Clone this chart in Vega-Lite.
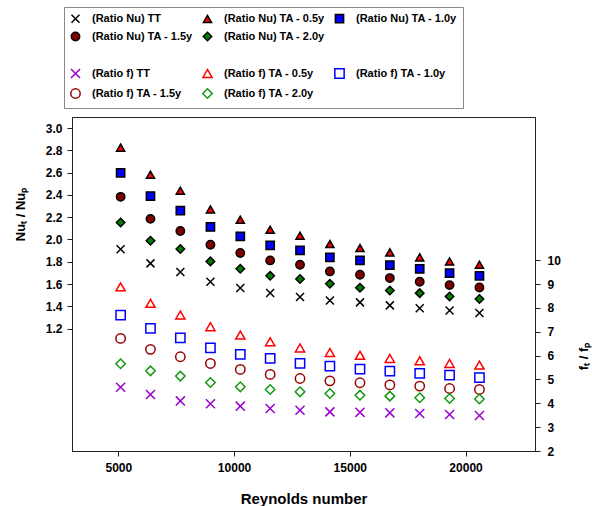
{
  "$schema": "https://vega.github.io/schema/vega-lite/v6.json",
  "width": 463,
  "height": 334,
  "autosize": {"type": "none"},
  "padding": {"left": 72, "top": 117, "right": 57, "bottom": 55},
  "background": "white",
  "config": {
    "view": {"stroke": "#222222", "strokeWidth": 1},
    "font": "Liberation Sans",
    "axis": {
      "grid": false,
      "domainColor": "#222222",
      "tickColor": "#222222",
      "labelColor": "black",
      "titleColor": "black",
      "labelFont": "Liberation Sans",
      "labelFontWeight": "bold",
      "labelFontSize": 12,
      "titleFont": "Liberation Sans",
      "titleFontWeight": "bold",
      "tickSize": 5
    }
  },
  "datasets": {
    "nu": [
      {"Re": 5100, "series": "(Ratio Nu) TT", "v": 1.912},
      {"Re": 6390, "series": "(Ratio Nu) TT", "v": 1.785},
      {"Re": 7680, "series": "(Ratio Nu) TT", "v": 1.708},
      {"Re": 8980, "series": "(Ratio Nu) TT", "v": 1.62},
      {"Re": 10270, "series": "(Ratio Nu) TT", "v": 1.564},
      {"Re": 11560, "series": "(Ratio Nu) TT", "v": 1.519},
      {"Re": 12850, "series": "(Ratio Nu) TT", "v": 1.483},
      {"Re": 14140, "series": "(Ratio Nu) TT", "v": 1.452},
      {"Re": 15440, "series": "(Ratio Nu) TT", "v": 1.435},
      {"Re": 16730, "series": "(Ratio Nu) TT", "v": 1.408},
      {"Re": 18020, "series": "(Ratio Nu) TT", "v": 1.383},
      {"Re": 19310, "series": "(Ratio Nu) TT", "v": 1.362},
      {"Re": 20600, "series": "(Ratio Nu) TT", "v": 1.339},
      {"Re": 5100, "series": "(Ratio Nu) TA - 0.5y", "v": 2.825},
      {"Re": 6390, "series": "(Ratio Nu) TA - 0.5y", "v": 2.582},
      {"Re": 7680, "series": "(Ratio Nu) TA - 0.5y", "v": 2.438},
      {"Re": 8980, "series": "(Ratio Nu) TA - 0.5y", "v": 2.27},
      {"Re": 10270, "series": "(Ratio Nu) TA - 0.5y", "v": 2.177},
      {"Re": 11560, "series": "(Ratio Nu) TA - 0.5y", "v": 2.088},
      {"Re": 12850, "series": "(Ratio Nu) TA - 0.5y", "v": 2.034},
      {"Re": 14140, "series": "(Ratio Nu) TA - 0.5y", "v": 1.959},
      {"Re": 15440, "series": "(Ratio Nu) TA - 0.5y", "v": 1.923},
      {"Re": 16730, "series": "(Ratio Nu) TA - 0.5y", "v": 1.884},
      {"Re": 18020, "series": "(Ratio Nu) TA - 0.5y", "v": 1.839},
      {"Re": 19310, "series": "(Ratio Nu) TA - 0.5y", "v": 1.803},
      {"Re": 20600, "series": "(Ratio Nu) TA - 0.5y", "v": 1.773},
      {"Re": 5100, "series": "(Ratio Nu) TA - 1.0y", "v": 2.599},
      {"Re": 6390, "series": "(Ratio Nu) TA - 1.0y", "v": 2.39},
      {"Re": 7680, "series": "(Ratio Nu) TA - 1.0y", "v": 2.258},
      {"Re": 8980, "series": "(Ratio Nu) TA - 1.0y", "v": 2.112},
      {"Re": 10270, "series": "(Ratio Nu) TA - 1.0y", "v": 2.027},
      {"Re": 11560, "series": "(Ratio Nu) TA - 1.0y", "v": 1.947},
      {"Re": 12850, "series": "(Ratio Nu) TA - 1.0y", "v": 1.902},
      {"Re": 14140, "series": "(Ratio Nu) TA - 1.0y", "v": 1.839},
      {"Re": 15440, "series": "(Ratio Nu) TA - 1.0y", "v": 1.812},
      {"Re": 16730, "series": "(Ratio Nu) TA - 1.0y", "v": 1.77},
      {"Re": 18020, "series": "(Ratio Nu) TA - 1.0y", "v": 1.735},
      {"Re": 19310, "series": "(Ratio Nu) TA - 1.0y", "v": 1.698},
      {"Re": 20600, "series": "(Ratio Nu) TA - 1.0y", "v": 1.674},
      {"Re": 5100, "series": "(Ratio Nu) TA - 1.5y", "v": 2.383},
      {"Re": 6390, "series": "(Ratio Nu) TA - 1.5y", "v": 2.185},
      {"Re": 7680, "series": "(Ratio Nu) TA - 1.5y", "v": 2.076},
      {"Re": 8980, "series": "(Ratio Nu) TA - 1.5y", "v": 1.953},
      {"Re": 10270, "series": "(Ratio Nu) TA - 1.5y", "v": 1.878},
      {"Re": 11560, "series": "(Ratio Nu) TA - 1.5y", "v": 1.812},
      {"Re": 12850, "series": "(Ratio Nu) TA - 1.5y", "v": 1.773},
      {"Re": 14140, "series": "(Ratio Nu) TA - 1.5y", "v": 1.713},
      {"Re": 15440, "series": "(Ratio Nu) TA - 1.5y", "v": 1.683},
      {"Re": 16730, "series": "(Ratio Nu) TA - 1.5y", "v": 1.653},
      {"Re": 18020, "series": "(Ratio Nu) TA - 1.5y", "v": 1.62},
      {"Re": 19310, "series": "(Ratio Nu) TA - 1.5y", "v": 1.59},
      {"Re": 20600, "series": "(Ratio Nu) TA - 1.5y", "v": 1.569},
      {"Re": 5100, "series": "(Ratio Nu) TA - 2.0y", "v": 2.152},
      {"Re": 6390, "series": "(Ratio Nu) TA - 2.0y", "v": 1.989},
      {"Re": 7680, "series": "(Ratio Nu) TA - 2.0y", "v": 1.914},
      {"Re": 8980, "series": "(Ratio Nu) TA - 2.0y", "v": 1.803},
      {"Re": 10270, "series": "(Ratio Nu) TA - 2.0y", "v": 1.737},
      {"Re": 11560, "series": "(Ratio Nu) TA - 2.0y", "v": 1.674},
      {"Re": 12850, "series": "(Ratio Nu) TA - 2.0y", "v": 1.645},
      {"Re": 14140, "series": "(Ratio Nu) TA - 2.0y", "v": 1.602},
      {"Re": 15440, "series": "(Ratio Nu) TA - 2.0y", "v": 1.566},
      {"Re": 16730, "series": "(Ratio Nu) TA - 2.0y", "v": 1.542},
      {"Re": 18020, "series": "(Ratio Nu) TA - 2.0y", "v": 1.518},
      {"Re": 19310, "series": "(Ratio Nu) TA - 2.0y", "v": 1.488},
      {"Re": 20600, "series": "(Ratio Nu) TA - 2.0y", "v": 1.465}
    ],
    "f": [
      {"Re": 5100, "series": "(Ratio f) TT", "v": 4.67},
      {"Re": 6390, "series": "(Ratio f) TT", "v": 4.37},
      {"Re": 7680, "series": "(Ratio f) TT", "v": 4.1},
      {"Re": 8980, "series": "(Ratio f) TT", "v": 3.98},
      {"Re": 10270, "series": "(Ratio f) TT", "v": 3.88},
      {"Re": 11560, "series": "(Ratio f) TT", "v": 3.78},
      {"Re": 12850, "series": "(Ratio f) TT", "v": 3.71},
      {"Re": 14140, "series": "(Ratio f) TT", "v": 3.64},
      {"Re": 15440, "series": "(Ratio f) TT", "v": 3.62},
      {"Re": 16730, "series": "(Ratio f) TT", "v": 3.6},
      {"Re": 18020, "series": "(Ratio f) TT", "v": 3.57},
      {"Re": 19310, "series": "(Ratio f) TT", "v": 3.53},
      {"Re": 20600, "series": "(Ratio f) TT", "v": 3.49},
      {"Re": 5100, "series": "(Ratio f) TA - 0.5y", "v": 8.88},
      {"Re": 6390, "series": "(Ratio f) TA - 0.5y", "v": 8.19},
      {"Re": 7680, "series": "(Ratio f) TA - 0.5y", "v": 7.7},
      {"Re": 8980, "series": "(Ratio f) TA - 0.5y", "v": 7.21},
      {"Re": 10270, "series": "(Ratio f) TA - 0.5y", "v": 6.86},
      {"Re": 11560, "series": "(Ratio f) TA - 0.5y", "v": 6.58},
      {"Re": 12850, "series": "(Ratio f) TA - 0.5y", "v": 6.32},
      {"Re": 14140, "series": "(Ratio f) TA - 0.5y", "v": 6.13},
      {"Re": 15440, "series": "(Ratio f) TA - 0.5y", "v": 6.01},
      {"Re": 16730, "series": "(Ratio f) TA - 0.5y", "v": 5.88},
      {"Re": 18020, "series": "(Ratio f) TA - 0.5y", "v": 5.78},
      {"Re": 19310, "series": "(Ratio f) TA - 0.5y", "v": 5.67},
      {"Re": 20600, "series": "(Ratio f) TA - 0.5y", "v": 5.6},
      {"Re": 5100, "series": "(Ratio f) TA - 1.0y", "v": 7.7},
      {"Re": 6390, "series": "(Ratio f) TA - 1.0y", "v": 7.14},
      {"Re": 7680, "series": "(Ratio f) TA - 1.0y", "v": 6.74},
      {"Re": 8980, "series": "(Ratio f) TA - 1.0y", "v": 6.32},
      {"Re": 10270, "series": "(Ratio f) TA - 1.0y", "v": 6.05},
      {"Re": 11560, "series": "(Ratio f) TA - 1.0y", "v": 5.88},
      {"Re": 12850, "series": "(Ratio f) TA - 1.0y", "v": 5.67},
      {"Re": 14140, "series": "(Ratio f) TA - 1.0y", "v": 5.56},
      {"Re": 15440, "series": "(Ratio f) TA - 1.0y", "v": 5.43},
      {"Re": 16730, "series": "(Ratio f) TA - 1.0y", "v": 5.35},
      {"Re": 18020, "series": "(Ratio f) TA - 1.0y", "v": 5.25},
      {"Re": 19310, "series": "(Ratio f) TA - 1.0y", "v": 5.18},
      {"Re": 20600, "series": "(Ratio f) TA - 1.0y", "v": 5.08},
      {"Re": 5100, "series": "(Ratio f) TA - 1.5y", "v": 6.72},
      {"Re": 6390, "series": "(Ratio f) TA - 1.5y", "v": 6.26},
      {"Re": 7680, "series": "(Ratio f) TA - 1.5y", "v": 5.95},
      {"Re": 8980, "series": "(Ratio f) TA - 1.5y", "v": 5.67},
      {"Re": 10270, "series": "(Ratio f) TA - 1.5y", "v": 5.42},
      {"Re": 11560, "series": "(Ratio f) TA - 1.5y", "v": 5.21},
      {"Re": 12850, "series": "(Ratio f) TA - 1.5y", "v": 5.04},
      {"Re": 14140, "series": "(Ratio f) TA - 1.5y", "v": 4.94},
      {"Re": 15440, "series": "(Ratio f) TA - 1.5y", "v": 4.86},
      {"Re": 16730, "series": "(Ratio f) TA - 1.5y", "v": 4.77},
      {"Re": 18020, "series": "(Ratio f) TA - 1.5y", "v": 4.72},
      {"Re": 19310, "series": "(Ratio f) TA - 1.5y", "v": 4.62},
      {"Re": 20600, "series": "(Ratio f) TA - 1.5y", "v": 4.58},
      {"Re": 5100, "series": "(Ratio f) TA - 2.0y", "v": 5.66},
      {"Re": 6390, "series": "(Ratio f) TA - 2.0y", "v": 5.36},
      {"Re": 7680, "series": "(Ratio f) TA - 2.0y", "v": 5.14},
      {"Re": 8980, "series": "(Ratio f) TA - 2.0y", "v": 4.87},
      {"Re": 10270, "series": "(Ratio f) TA - 2.0y", "v": 4.69},
      {"Re": 11560, "series": "(Ratio f) TA - 2.0y", "v": 4.58},
      {"Re": 12850, "series": "(Ratio f) TA - 2.0y", "v": 4.48},
      {"Re": 14140, "series": "(Ratio f) TA - 2.0y", "v": 4.41},
      {"Re": 15440, "series": "(Ratio f) TA - 2.0y", "v": 4.34},
      {"Re": 16730, "series": "(Ratio f) TA - 2.0y", "v": 4.3},
      {"Re": 18020, "series": "(Ratio f) TA - 2.0y", "v": 4.23},
      {"Re": 19310, "series": "(Ratio f) TA - 2.0y", "v": 4.2},
      {"Re": 20600, "series": "(Ratio f) TA - 2.0y", "v": 4.18}
    ]
  },
  "layer": [
    {
      "data": {"name": "nu"},
      "mark": {"type": "point", "opacity": 1, "strokeWidth": 1.5},
      "encoding": {
        "x": {"field": "Re", "type": "quantitative",
          "scale": {"domain": [3000, 23000], "nice": false, "zero": false},
          "axis": {"values": [5000, 10000, 15000, 20000], "format": "d", "title": "Reynolds number", "titleFontSize": 15, "titleY": 47, "titleBaseline": "middle", "labelPadding": 6}},
        "y": {"field": "v", "type": "quantitative",
          "scale": {"domain": [0.1, 3.1], "nice": false, "zero": false},
          "axis": {"orient": "left", "values": [1.2, 1.4, 1.6, 1.8, 2.0, 2.2, 2.4, 2.6, 2.8, 3.0], "format": ".1f", "title": "Nuₜ / Nuₚ", "titleFontSize": 13, "titleX": -52, "titleY": 97, "titleAngle": -90, "titleBaseline": "middle", "titleAlign": "center", "labelPadding": 5}},
        "shape": {"field": "series", "type": "nominal",
          "scale": {"domain": ["(Ratio Nu) TT", "(Ratio Nu) TA - 0.5y", "(Ratio Nu) TA - 1.0y", "(Ratio Nu) TA - 1.5y", "(Ratio Nu) TA - 2.0y", "gap1", "gap2", "gap3", "gap4", "(Ratio f) TT", "(Ratio f) TA - 0.5y", "(Ratio f) TA - 1.0y", "(Ratio f) TA - 1.5y", "(Ratio f) TA - 2.0y"],
            "range": ["M-1,-1L1,1M-1,1L1,-1", "triangle-up", "square", "circle", "diamond", "circle", "circle", "circle", "circle", "M-1,-1L1,1M-1,1L1,-1", "triangle-up", "square", "circle", "diamond"]},
          "legend": {"orient": "none", "direction": "horizontal", "legendX": -8, "legendY": -110, "columns": 3, "title": null, "labelFont": "Liberation Sans", "labelFontSize": 11, "labelFontWeight": "bold", "labelColor": "black", "strokeColor": "#888888", "padding": 6, "rowPadding": 3, "columnPadding": 6, "labelOffset": 11, "labelLimit": 300, "symbolStrokeWidth": 1.5, "labelExpr": "indexof(datum.label, 'gap') === 0 ? '' : datum.label"}},
        "fill": {"field": "series", "type": "nominal",
          "scale": {"domain": ["(Ratio Nu) TT", "(Ratio Nu) TA - 0.5y", "(Ratio Nu) TA - 1.0y", "(Ratio Nu) TA - 1.5y", "(Ratio Nu) TA - 2.0y", "gap1", "gap2", "gap3", "gap4", "(Ratio f) TT", "(Ratio f) TA - 0.5y", "(Ratio f) TA - 1.0y", "(Ratio f) TA - 1.5y", "(Ratio f) TA - 2.0y"],
            "range": ["transparent", "#FF0000", "#0000FF", "#800000", "#008000", "transparent", "transparent", "transparent", "transparent", "transparent", "transparent", "transparent", "transparent", "transparent"]},
          "legend": {"orient": "none", "direction": "horizontal", "legendX": -8, "legendY": -110, "columns": 3, "title": null, "labelFont": "Liberation Sans", "labelFontSize": 11, "labelFontWeight": "bold", "labelColor": "black", "strokeColor": "#888888", "padding": 6, "rowPadding": 3, "columnPadding": 6, "labelOffset": 11, "labelLimit": 300, "symbolStrokeWidth": 1.5, "labelExpr": "indexof(datum.label, 'gap') === 0 ? '' : datum.label"}},
        "stroke": {"field": "series", "type": "nominal",
          "scale": {"domain": ["(Ratio Nu) TT", "(Ratio Nu) TA - 0.5y", "(Ratio Nu) TA - 1.0y", "(Ratio Nu) TA - 1.5y", "(Ratio Nu) TA - 2.0y", "gap1", "gap2", "gap3", "gap4", "(Ratio f) TT", "(Ratio f) TA - 0.5y", "(Ratio f) TA - 1.0y", "(Ratio f) TA - 1.5y", "(Ratio f) TA - 2.0y"],
            "range": ["#000000", "#000000", "#000000", "#000000", "#000000", "transparent", "transparent", "transparent", "transparent", "#9900CC", "#FF0000", "#0000FF", "#990000", "#119911"]},
          "legend": {"orient": "none", "direction": "horizontal", "legendX": -8, "legendY": -110, "columns": 3, "title": null, "labelFont": "Liberation Sans", "labelFontSize": 11, "labelFontWeight": "bold", "labelColor": "black", "strokeColor": "#888888", "padding": 6, "rowPadding": 3, "columnPadding": 6, "labelOffset": 11, "labelLimit": 300, "symbolStrokeWidth": 1.5, "labelExpr": "indexof(datum.label, 'gap') === 0 ? '' : datum.label"}},
        "size": {"field": "series", "type": "nominal",
          "scale": {"domain": ["(Ratio Nu) TT", "(Ratio Nu) TA - 0.5y", "(Ratio Nu) TA - 1.0y", "(Ratio Nu) TA - 1.5y", "(Ratio Nu) TA - 2.0y", "gap1", "gap2", "gap3", "gap4", "(Ratio f) TT", "(Ratio f) TA - 0.5y", "(Ratio f) TA - 1.0y", "(Ratio f) TA - 1.5y", "(Ratio f) TA - 2.0y"],
            "range": [64, 90, 56, 72, 85, 64, 64, 64, 64, 64, 90, 56, 72, 85]},
          "legend": {"orient": "none", "direction": "horizontal", "legendX": -8, "legendY": -110, "columns": 3, "title": null, "labelFont": "Liberation Sans", "labelFontSize": 11, "labelFontWeight": "bold", "labelColor": "black", "strokeColor": "#888888", "padding": 6, "rowPadding": 3, "columnPadding": 6, "labelOffset": 11, "labelLimit": 300, "symbolStrokeWidth": 1.5, "labelExpr": "indexof(datum.label, 'gap') === 0 ? '' : datum.label"}}
      }
    },
    {
      "data": {"name": "f"},
      "mark": {"type": "point", "opacity": 1, "strokeWidth": 1.5},
      "encoding": {
        "x": {"field": "Re", "type": "quantitative"},
        "y": {"field": "v", "type": "quantitative",
          "scale": {"domain": [2, 16], "nice": false, "zero": false},
          "axis": {"orient": "right", "values": [2, 3, 4, 5, 6, 7, 8, 9, 10], "format": "d", "title": "fₜ / fₚ", "titleFontSize": 13, "titleX": 48, "titleY": 239, "titleAngle": -90, "titleBaseline": "middle", "titleAlign": "center", "labelPadding": 7}},
        "shape": {"field": "series", "type": "nominal"},
        "fill": {"field": "series", "type": "nominal"},
        "stroke": {"field": "series", "type": "nominal"},
        "size": {"field": "series", "type": "nominal"}
      }
    }
  ],
  "resolve": {"scale": {"y": "independent"}}
}
